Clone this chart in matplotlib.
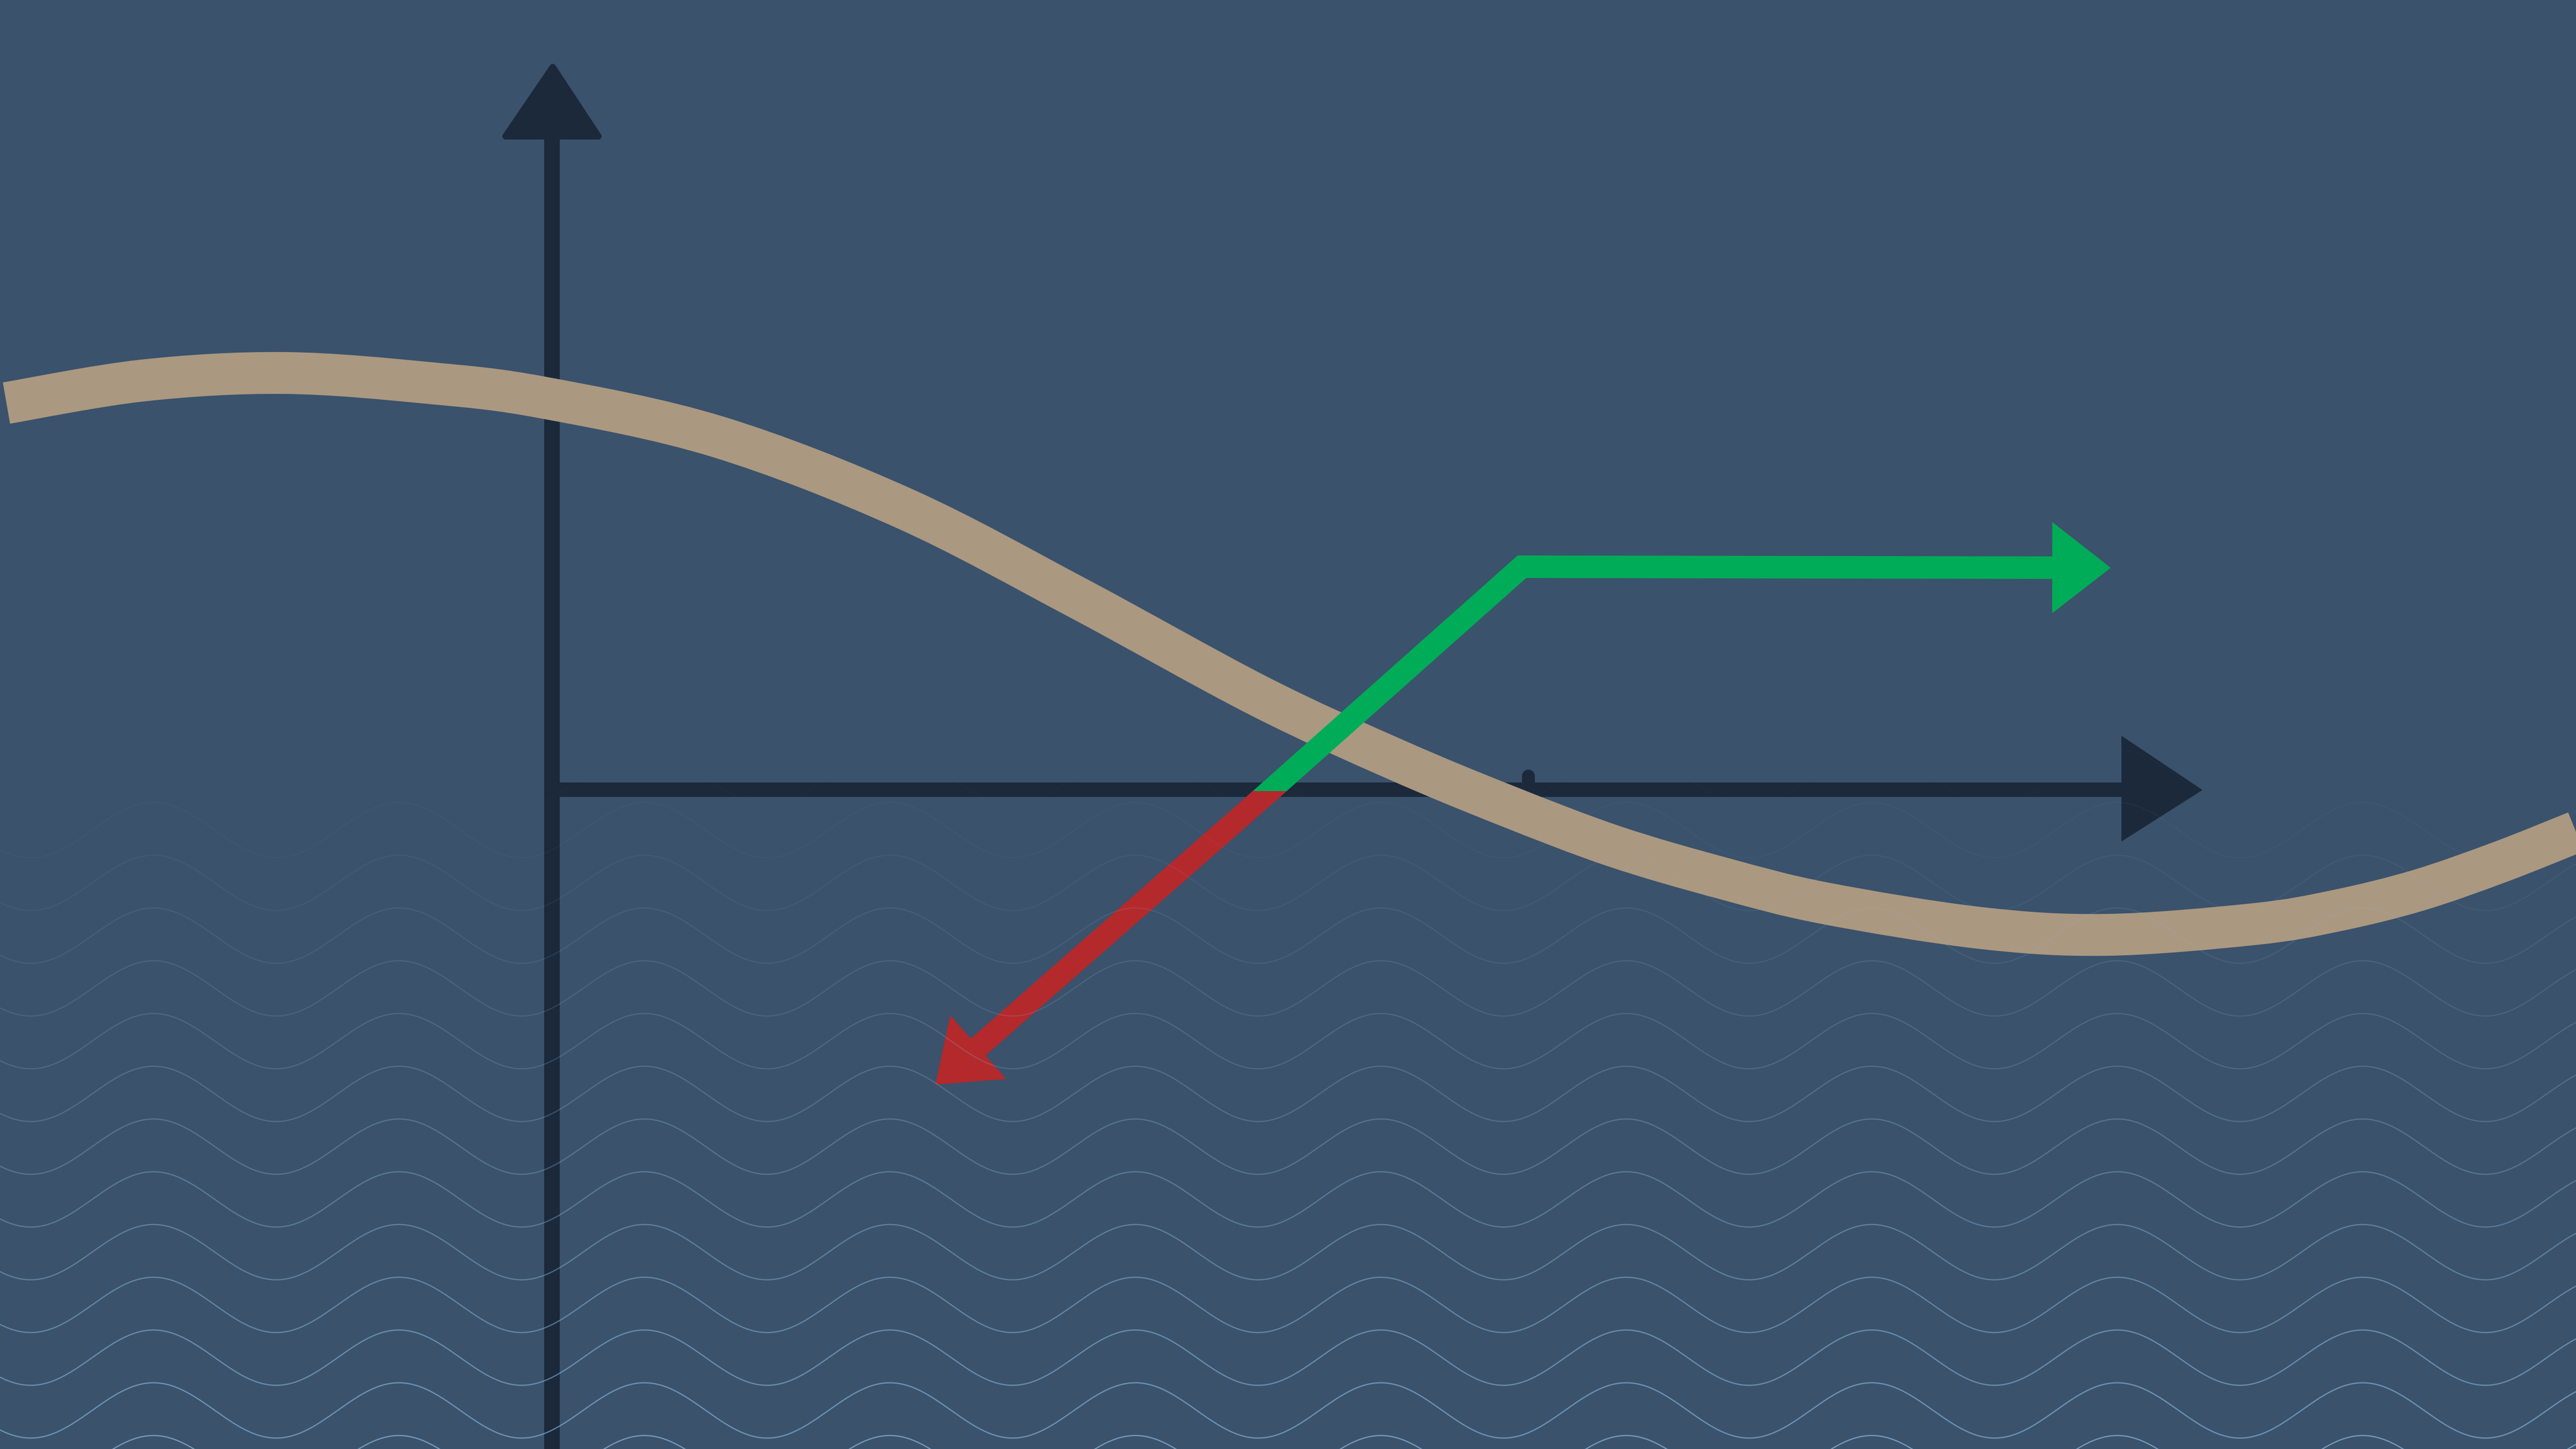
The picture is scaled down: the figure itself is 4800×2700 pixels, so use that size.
import numpy as np
import matplotlib.pyplot as plt
from matplotlib.patches import Polygon, Rectangle, PathPatch
from matplotlib.path import Path

# canvas is drawn in pixel units (4800 x 2700, y pointing down)
W, H = 4800, 2700
PT = 0.72  # points per pixel at dpi=100

BG = '#3a526c'
DARK = '#1b293b'
SAND = '#ab9880'
GREEN = '#00ac58'
RED = '#b4292b'
WAVE = '#8fbae0'

# axes of the sketch
y_axis_x = [1028, 1028]
y_axis_y = [2700, 250]
y_head_x = [942, 1030, 1115]
y_head_y = [254, 125, 254]
x_axis_x = [1040, 3960]
x_axis_y = [1471, 1471]
x_head_x = [3953, 4104, 3953]
x_head_y = [1371, 1472, 1568]
tick_x = [2848, 2848]
tick_y = [1446, 1466]

# sand coloured curve
curve_x = [12, 266, 530, 803, 1013, 1338, 1684, 2008, 2348, 2600, 2804,
           3008, 3212, 3400, 3689, 3924, 4200, 4353, 4506, 4659, 4800]
curve_y = [751, 709, 695, 714, 741, 814, 947, 1114, 1298, 1415, 1500,
           1577, 1637, 1683, 1729, 1742, 1722, 1697, 1659, 1606, 1550]

# up (green) and down (red) arrows, last point = arrow tip
green_x = [2366, 2836, 3933]
green_y = [1474, 1056, 1058]
red_x = [2366, 1743]
red_y = [1474, 2021]

# wave texture
WAVE_TOP = 1397
WAVE_GAP = 98.3
WAVE_AMP = 51.5
WAVE_PERIOD = 457.4
WAVE_X0 = 286
WAVE_ROWS = 14


def smooth_path(xs, ys):
    # cubic bezier through the points (catmull-rom tangents)
    P = np.column_stack([xs, ys]).astype(float)
    n = len(P)
    verts = [P[0]]
    codes = [Path.MOVETO]
    for i in range(n - 1):
        p0 = P[max(i - 1, 0)]
        p1, p2 = P[i], P[i + 1]
        p3 = P[min(i + 2, n - 1)]
        verts += [p1 + (p2 - p0) / 6, p2 - (p3 - p1) / 6, p2]
        codes += [Path.CURVE4] * 3
    return Path(verts, codes)


def draw_arrow(ax, xs, ys, color, lw_px, head_len, head_half, clip_rect, z):
    xs = list(map(float, xs))
    ys = list(map(float, ys))
    dx, dy = xs[-1] - xs[-2], ys[-1] - ys[-2]
    L = np.hypot(dx, dy)
    ux, uy = dx / L, dy / L
    bx, by = xs[-1] - ux * head_len, ys[-1] - uy * head_len
    # stretch the start a little so the clip gives a flat seam on the axis
    sx, sy = xs[1] - xs[0], ys[1] - ys[0]
    sl = np.hypot(sx, sy)
    x0, y0 = xs[0] - sx / sl * 40, ys[0] - sy / sl * 40
    line, = ax.plot([x0] + xs[1:-1] + [bx + ux * 3], [y0] + ys[1:-1] + [by + uy * 3],
                    color=color, lw=lw_px * PT, solid_capstyle='butt',
                    solid_joinstyle='miter', zorder=z)
    line.set_clip_path(Rectangle(clip_rect[:2], clip_rect[2], clip_rect[3],
                                 transform=ax.transData))
    px, py = -uy, ux
    head = Polygon([(xs[-1], ys[-1]),
                    (bx + px * head_half, by + py * head_half),
                    (bx - px * head_half, by - py * head_half)],
                   closed=True, facecolor=color, edgecolor='none', zorder=z)
    ax.add_patch(head)


fig = plt.figure(figsize=(48, 27), dpi=100, facecolor=BG)
ax = fig.add_axes([0, 0, 1, 1])
ax.set_facecolor(BG)
ax.set_xlim(0, W)
ax.set_ylim(H, 0)
ax.axis('off')

# axes
ax.plot(y_axis_x, y_axis_y, color=DARK, lw=29 * PT, solid_capstyle='butt', zorder=2)
ax.add_patch(Polygon(list(zip(y_head_x, y_head_y)), closed=True, facecolor=DARK,
                     edgecolor=DARK, lw=12 * PT, joinstyle='round', zorder=2))
ax.plot(x_axis_x, x_axis_y, color=DARK, lw=27 * PT, solid_capstyle='butt', zorder=2)
ax.add_patch(Polygon(list(zip(x_head_x, x_head_y)), closed=True, facecolor=DARK,
                     edgecolor='none', zorder=2))
ax.plot(tick_x, tick_y, color=DARK, lw=24 * PT, solid_capstyle='round', zorder=2)

# curve
ax.add_patch(PathPatch(smooth_path(curve_x, curve_y), facecolor='none',
                       edgecolor=SAND, lw=78 * PT, capstyle='butt', zorder=3))

# arrows, split on the x axis line
split = green_y[0]
draw_arrow(ax, green_x, green_y, GREEN, 42, 109, 85, (0, 0, W, split), 4)
draw_arrow(ax, red_x, red_y, RED, 42, 106, 79, (0, split, W, H - split), 4)

# wave texture over everything, fading out towards the top
xw = np.arange(0, W + 5, 4)
for i in range(WAVE_ROWS):
    y0 = WAVE_TOP + i * WAVE_GAP
    yw = y0 + WAVE_AMP * (1 - np.cos(2 * np.pi * (xw - WAVE_X0) / WAVE_PERIOD))
    a = 0.66 * (i / (WAVE_ROWS - 1)) ** 1.25 + 0.02
    ax.plot(xw, yw, color=WAVE, lw=2.3 * PT, alpha=a, zorder=6)

fig.savefig('out.png', dpi=100, facecolor=BG)
